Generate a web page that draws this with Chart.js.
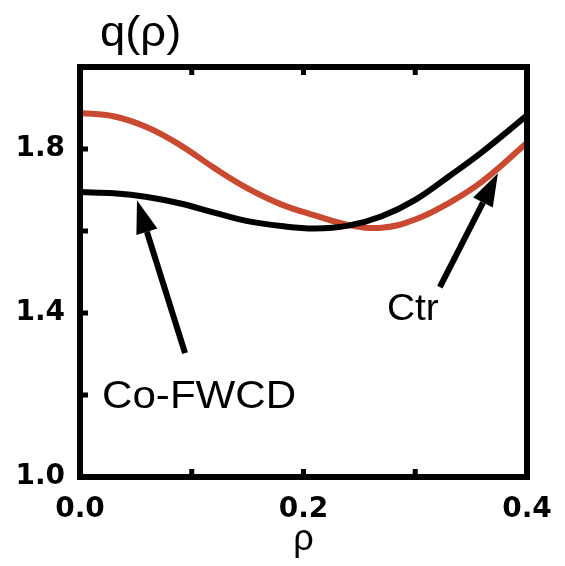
<!DOCTYPE html>
<html>
<head>
<meta charset="utf-8">
<script src="https://cdn.jsdelivr.net/npm/chart.js@4"></script>
<style>
  html, body { margin: 0; padding: 0; background: #fff; }
  #wrap { width: 565px; height: 566px; position: relative; }
</style>
</head>
<body>
<div id="wrap"><canvas id="c"></canvas></div>
<script>
// q(rho) profiles, Co-FWCD vs Ctr

const RHO = [0, 0.03, 0.06, 0.09, 0.12, 0.15, 0.18, 0.21, 0.24, 0.27, 0.30, 0.33, 0.36, 0.40];
const Q_COFWCD = [1.695, 1.692, 1.683, 1.667, 1.645, 1.624, 1.612, 1.606, 1.613, 1.636, 1.676, 1.733, 1.793, 1.882];
const Q_CTR    = [1.888, 1.880, 1.853, 1.809, 1.754, 1.704, 1.665, 1.638, 1.615, 1.608, 1.628, 1.668, 1.721, 1.815];

const X_TICKS = [0.1, 0.2, 0.3];
const Y_TICKS = [1.2, 1.4, 1.6, 1.8];
const X_LABELS = ['0.0', '0.2', '0.4'];
const Y_LABELS = ['1.0', '1.4', '1.8'];

// annotations in data coords: [tailRho, tailQ, tipRho, tipQ]
const ARROWS = [
  [0.094, 1.302, 0.0510, 1.675],
  [0.322, 1.463, 0.3740, 1.741],
];
const NOTES = [
  ['Co-FWCD', 0.0197, 1.168],
  ['Ctr', 0.2747, 1.383],
];

const RED = '#c94a31';
const TEXT_FONT = '"Liberation Sans", Arial, sans-serif';
const TICK_FONT = '"DejaVu Sans", Verdana, sans-serif';

const toPts = (xs, ys) => xs.map((x, i) => ({ x, y: ys[i] }));

const frame = {
  id: 'frame',
  afterDatasetsDraw(chart) {
    const { ctx, chartArea: a, scales: { x, y } } = chart;
    ctx.save();
    ctx.strokeStyle = '#000';
    ctx.fillStyle = '#000';
    ctx.lineWidth = 6;
    ctx.lineCap = 'square';
    ctx.strokeRect(a.left, a.top, a.right - a.left, a.bottom - a.top);

    // inward tick marks
    ctx.lineWidth = 5;
    ctx.lineCap = 'butt';
    X_TICKS.forEach(v => {
      const px = x.getPixelForValue(v);
      ctx.beginPath();
      ctx.moveTo(px, a.top); ctx.lineTo(px, a.top + 8);
      ctx.moveTo(px, a.bottom); ctx.lineTo(px, a.bottom - 8);
      ctx.stroke();
    });
    Y_TICKS.forEach(v => {
      const py = y.getPixelForValue(v);
      ctx.beginPath();
      ctx.moveTo(a.left, py); ctx.lineTo(a.left + 8, py);
      ctx.stroke();
    });

    // arrows
    ARROWS.forEach(([r0, q0, r1, q1]) => {
      const x0 = x.getPixelForValue(r0), y0 = y.getPixelForValue(q0);
      const x1 = x.getPixelForValue(r1), y1 = y.getPixelForValue(q1);
      const ang = Math.atan2(y1 - y0, x1 - x0);
      const hl = 33, hw = 11;
      const bx = x1 - hl * Math.cos(ang), by = y1 - hl * Math.sin(ang);
      ctx.lineWidth = 6;
      ctx.beginPath();
      ctx.moveTo(x0, y0); ctx.lineTo(bx, by);
      ctx.stroke();
      ctx.beginPath();
      ctx.moveTo(x1, y1);
      ctx.lineTo(bx + hw * Math.sin(ang), by - hw * Math.cos(ang));
      ctx.lineTo(bx - hw * Math.sin(ang), by + hw * Math.cos(ang));
      ctx.closePath();
      ctx.fill();
    });

    // text labels, slightly wide like the original
    ctx.textBaseline = 'alphabetic';
    ctx.textAlign = 'left';
    NOTES.forEach(([t, r, q], i) => {
      ctx.save();
      ctx.translate(x.getPixelForValue(r), y.getPixelForValue(q));
      ctx.scale(1.08, 1);
      ctx.font = (i === 0 ? '39px ' : '36px ') + TEXT_FONT;
      ctx.fillText(t, 0, 0);
      ctx.restore();
    });

    // y title at top
    ctx.save();
    ctx.translate(100, 46);
    ctx.scale(1.08, 1);
    ctx.font = '42px ' + TEXT_FONT;
    ctx.fillText('q(\u03c1)', 0, 0);
    ctx.restore();
    ctx.restore();
  }
};

new Chart(document.getElementById('c'), {
  type: 'line',
  data: {
    datasets: [
      { label: 'Co-FWCD', data: toPts(RHO, Q_COFWCD), borderColor: '#000', borderWidth: 6, pointRadius: 0, tension: 0.4 },
      { label: 'Ctr', data: toPts(RHO, Q_CTR), borderColor: RED, borderWidth: 6, pointRadius: 0, tension: 0.4 },
    ],
  },
  options: {
    animation: false,
    responsive: true,
    maintainAspectRatio: false,
    layout: { padding: { top: 67, right: 38, left: 0, bottom: 0 } },
    plugins: { legend: { display: false }, tooltip: { enabled: false } },
    scales: {
      x: {
        type: 'linear', min: 0, max: 0.4,
        grid: { display: false, drawTicks: false },
        border: { display: false },
        ticks: {
          stepSize: 0.2, padding: 16, color: '#000', maxRotation: 0,
          font: { family: TICK_FONT, weight: 'bold', size: 28 },
          callback: v => { const s = v.toFixed(1); return X_LABELS.includes(s) ? s : ''; },
        },
        title: { display: true, text: '\u03c1', color: '#000', font: { family: TEXT_FONT, size: 36 }, padding: { top: 0, bottom: 4 } },
        afterFit: s => { s.height = 89; s.paddingLeft = 0; s.paddingRight = 0; },
      },
      y: {
        min: 1.0, max: 2.0,
        grid: { display: false, drawTicks: false },
        border: { display: false },
        ticks: {
          stepSize: 0.2, padding: 15, color: '#000',
          font: { family: TICK_FONT, weight: 'bold', size: 28 },
          callback: v => { const s = v.toFixed(1); return Y_LABELS.includes(s) ? s : ''; },
        },
        afterFit: s => { s.width = 80; s.paddingTop = 0; s.paddingBottom = 0; },
      },
    },
  },
  plugins: [frame],
});
</script>
</body>
</html>
